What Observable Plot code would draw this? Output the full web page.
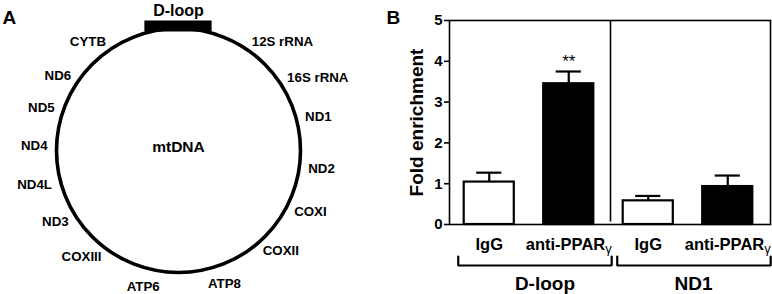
<!DOCTYPE html>
<html><head><meta charset="utf-8">
<script src="https://cdn.jsdelivr.net/npm/d3@7"></script>
<script src="https://cdn.jsdelivr.net/npm/@observablehq/plot@0.6"></script>
<style>
body{margin:0;background:#fff;}
#wrap{display:flex;width:772px;height:294px;overflow:hidden;background:#fff;}
#wrap svg{flex:none;}
</style></head><body><div id="wrap"></div>
<script>
// ---- Panel A data: mtDNA gene map (angle clockwise from top, degrees)
const genes = ["CYTB","12S rRNA","ND6","16S rRNA","ND5","ND1","ND4","ND2","ND4L","COXI","ND3","COXII","COXIII","ATP6","ATP8"];
const geneAngles = [-33.6, 34, -55, 56, -71, 75, -88, 98, -105, 118, -123, 140, -144, -165.5, 161];
const dloopArc = [-16, 16];

// ---- Panel B data: ChIP fold enrichment
const groups = ["D-loop", "ND1"];
const targets = ["D-loop", "D-loop", "ND1", "ND1"];
const antibodies = ["IgG", "anti-PPARγ", "IgG", "anti-PPARγ"];
const enrichment = [1.04, 3.45, 0.58, 0.93];
const sem = [0.23, 0.30, 0.12, 0.27];
const significance = ["", "**", "", ""];
const yTicks = [0, 1, 2, 3, 4, 5];

const FONT = '"Liberation Sans", Arial, Helvetica, sans-serif';
const H = 294;

// ================= Panel A =================
const WA = 385, R = 122, CX = 178, CY = 150;
const rad = a => a * Math.PI / 180;
const geneData = genes.map((g, i) => ({gene: g, angle: geneAngles[i]}));
const side = d => Math.abs(Math.sin(rad(d.angle))) < 0.4 ? "bottom" : (d.angle < 0 ? "left" : "right");
const labelR = d => (side(d) === "bottom" ? 141 : 131) / R;
const gx = d => Math.sin(rad(d.angle)) * labelR(d);
const gy = d => Math.cos(rad(d.angle)) * labelR(d);
const geneText = (s, anchor) => Plot.text(geneData.filter(d => side(d) === s), {
  x: gx, y: gy, text: "gene", textAnchor: anchor, fontSize: 13.3, fontWeight: "bold", fill: "black"
});
const dloopBox = [{x1: Math.sin(rad(dloopArc[0])), x2: Math.sin(rad(dloopArc[1])), y: 1 + 2.5 / R}];

const panelA = Plot.plot({
  width: WA, height: H, margin: 0,
  style: {fontFamily: FONT, background: "white", color: "black"},
  x: {domain: [-CX / R, (WA - CX) / R], axis: null},
  y: {domain: [-(H - CY) / R, CY / R], axis: null},
  marks: [
    Plot.dot([{x: 0, y: 0}], {x: "x", y: "y", r: R, stroke: "black", strokeWidth: 3.6, fill: "none"}),
    Plot.ruleY(dloopBox, {y: "y", x1: "x1", x2: "x2", stroke: "black", strokeWidth: 11}),
    Plot.text(dloopBox, {x: () => 0, y: "y", dy: -15.5, text: () => "D-loop", fontSize: 16, fontWeight: "bold", fill: "black"}),
    Plot.text([{x: 0, y: 0}], {x: "x", y: "y", dy: -3, text: () => "mtDNA", fontSize: 15.5, fontWeight: "bold", fill: "black"}),
    geneText("left", "end"),
    geneText("right", "start"),
    geneText("bottom", "middle"),
    Plot.text(["A"], {frameAnchor: "top-left", dx: 2, dy: 10, text: d => d, textAnchor: "start", fontSize: 19, fontWeight: "bold", fill: "black"})
  ]
});

// ================= Panel B =================
const WB = 772 - WA;
const bars = antibodies.map((a, i) => ({i, target: targets[i], ab: a, v: enrichment[i], e: sem[i], sig: significance[i]}));
const barHalf = 0.315, capHalf = 0.158;
const pxPerUnit = (224 - 20) / 5;
const bracketTop = -32 / pxPerUnit, bracketBase = -41 / pxPerUnit;
const bracketPts = groups.flatMap((g, k) => {
  const a = 2 * k + 0.11, b = 2 * k + 2.04;
  return [{g, x: a, y: bracketTop}, {g, x: a, y: bracketBase}, {g, x: b, y: bracketBase}, {g, x: b, y: bracketTop}];
});

const panelB = Plot.plot({
  width: WB, height: H,
  marginLeft: 449 - WA, marginRight: 2, marginTop: 20, marginBottom: H - 224,
  style: {fontFamily: FONT, background: "white", color: "black", fontSize: "14.5px", fontWeight: "bold"},
  x: {domain: [0, 4], range: [449 - WA, 767 - WA], axis: null},
  y: {domain: [0, 5], axis: null},
  marks: [
    Plot.frame({stroke: "black", strokeWidth: 1.6}),
    Plot.ruleX([2], {x: d => d, dx: 2, y1: () => 0.06, y2: () => 5, stroke: "black", strokeWidth: 1.6}),
    Plot.ruleX(bars, {x: d => d.i + 0.5, y1: "v", y2: d => d.v + d.e, stroke: "black", strokeWidth: 2.2}),
    Plot.ruleY(bars, {y: d => d.v + d.e, x1: d => d.i + 0.5 - capHalf, x2: d => d.i + 0.5 + capHalf, stroke: "black", strokeWidth: 2.2}),
    Plot.rect(bars.filter(d => d.ab === "IgG"), {x1: d => d.i + 0.5 - barHalf, x2: d => d.i + 0.5 + barHalf, y1: () => 0, y2: "v", fill: "white", stroke: "black", strokeWidth: 2.2}),
    Plot.rect(bars.filter(d => d.ab !== "IgG"), {x1: d => d.i + 0.5 - barHalf, x2: d => d.i + 0.5 + barHalf, y1: () => 0, y2: "v", fill: "black", stroke: "black", strokeWidth: 2.2}),
    Plot.text(bars.filter(d => d.sig), {x: d => d.i + 0.5, y: d => d.v + d.e, dy: -10, text: "sig", fontSize: 17, fontWeight: "normal", fill: "black"}),
    Plot.axisY({ticks: yTicks, tickSize: 5, tickPadding: 2, tickFormat: d => d, label: null, strokeWidth: 1.6, fontSize: 15, fontWeight: "bold"}),
    Plot.text(["Fold enrichment"], {frameAnchor: "left", dx: -33, rotate: -90, textAnchor: "middle", text: d => d, fontSize: 19, fontWeight: "bold", fill: "black"}),
    Plot.text(bars, {x: d => d.i + 0.5, y: () => 0, dy: 20, text: "ab", fontSize: 16.5, fontWeight: "bold", fill: "black"}),
    Plot.line(bracketPts, {x: "x", y: "y", z: "g", stroke: "black", strokeWidth: 2.2, strokeLinejoin: "miter"}),
    Plot.text([groups[0]], {x: () => 1.05, y: () => 0, dx: 12, dy: 59.5, text: d => d, fontSize: 19, fontWeight: "bold", fill: "black"}),
    Plot.text([groups[1]], {x: () => 3.07, y: () => 0, dy: 59.5, text: d => d, fontSize: 19, fontWeight: "bold", fill: "black"}),
    Plot.text(["B"], {frameAnchor: "top-left", dx: -(449 - WA) + 1, dy: -10, text: d => d, textAnchor: "start", fontSize: 19, fontWeight: "bold", fill: "black"})
  ]
});

// subscript gamma in the antibody labels
panelB.querySelectorAll("text").forEach(t => {
  if (t.children.length === 0 && t.textContent.endsWith("γ")) {
    const base = t.textContent.slice(0, -1);
    t.textContent = base;
    const ts = document.createElementNS("http://www.w3.org/2000/svg", "tspan");
    ts.textContent = "γ";
    ts.setAttribute("font-size", "13px");
    ts.setAttribute("font-weight", "normal");
    ts.setAttribute("dy", "3");
    t.appendChild(ts);
  }
});

document.getElementById("wrap").append(panelA, panelB);
</script>
</body></html>
